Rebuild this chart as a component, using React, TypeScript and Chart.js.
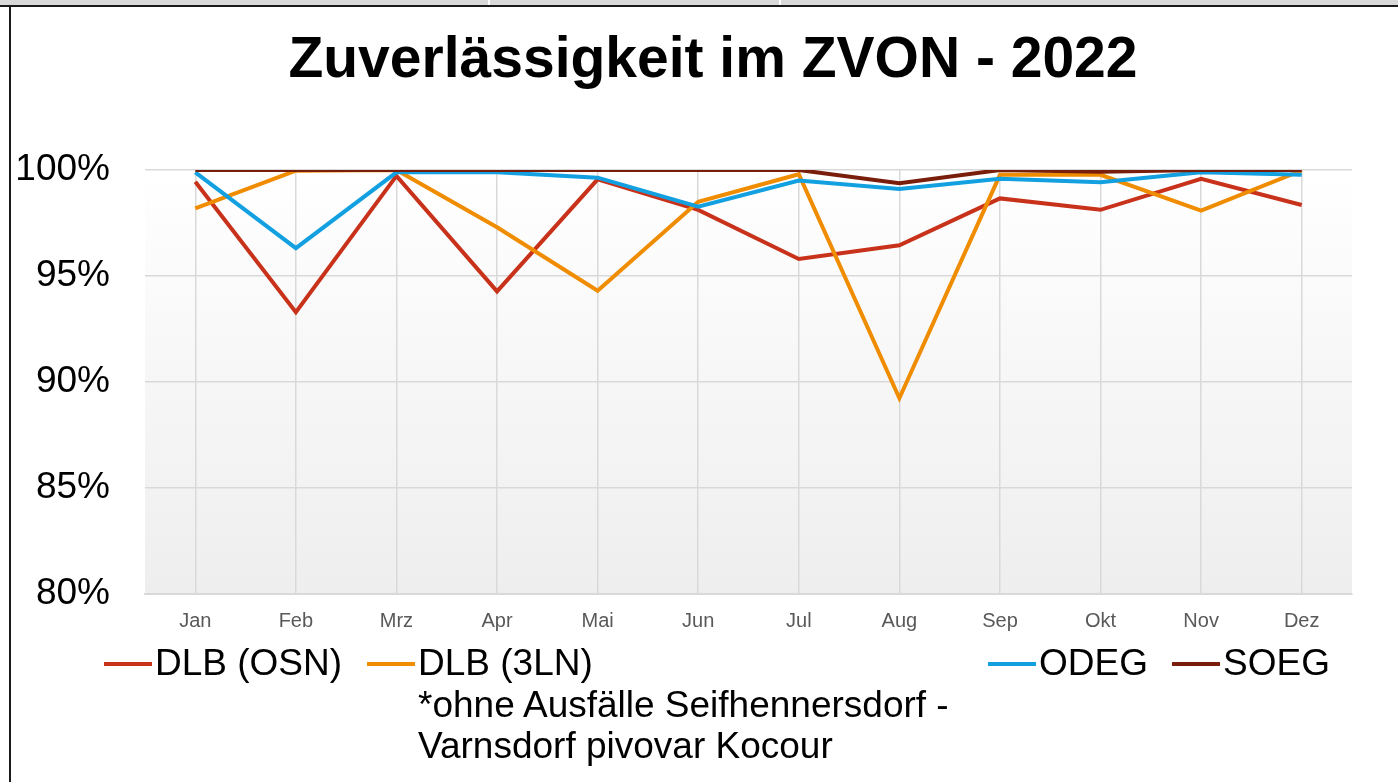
import React, { useEffect, useRef } from "react";
import { Chart, registerables } from "chart.js";

Chart.register(...registerables);

const FONT = "'Liberation Sans', Arial, sans-serif";

const TITLE = "Zuverlässigkeit im ZVON - 2022";
const MONTHS = ["Jan", "Feb", "Mrz", "Apr", "Mai", "Jun", "Jul", "Aug", "Sep", "Okt", "Nov", "Dez"];

const DLB_OSN = [99.45, 93.29, 99.72, 94.27, 99.56, 98.12, 95.8, 96.45, 98.66, 98.12, 99.58, 98.35];
const DLB_3LN = [98.19, 99.97, 100, 97.3, 94.3, 98.5, 99.8, 89.23, 99.77, 99.77, 98.08, 99.98];
const ODEG = [99.89, 96.31, 99.89, 99.89, 99.64, 98.27, 99.5, 99.1, 99.59, 99.42, 99.89, 99.77];
const SOEG = [100, 100, 100, 100, 100, 100, 100, 99.37, 100, 99.92, 100, 100];

const Y_MIN = 80;
const Y_MAX = 100;
const Y_STEP = 5;

const COLORS = {
  osn: "#c8321a",
  l3n: "#f08c00",
  odeg: "#12a0e0",
  soeg: "#7a1e0c",
};

const plotBg = {
  id: "plotBg",
  beforeDraw(chart: any) {
    const { ctx, chartArea: a } = chart;
    const g = ctx.createLinearGradient(0, a.top, 0, a.bottom);
    g.addColorStop(0, "#ffffff");
    g.addColorStop(1, "#eeeeee");
    ctx.save();
    ctx.fillStyle = g;
    ctx.fillRect(a.left, a.top, a.right - a.left, a.bottom - a.top);
    ctx.restore();
  },
};

function LegendItem(props: { x: number; color: string; lines: string[] }) {
  const { x, color, lines } = props;
  return (
    <>
      <div
        style={{
          position: "absolute",
          left: x,
          top: 662,
          width: 48,
          height: 4,
          background: color,
        }}
      />
      <div
        style={{
          position: "absolute",
          left: x + 51,
          top: 642,
          fontFamily: FONT,
          fontSize: 37,
          lineHeight: "41.5px",
          color: "#000",
          whiteSpace: "nowrap",
        }}
      >
        {lines.map((l, i) => (
          <div key={i}>{l}</div>
        ))}
      </div>
    </>
  );
}

export default function App() {
  const ref = useRef<HTMLCanvasElement | null>(null);

  useEffect(() => {
    if (!ref.current) return;
    const ds = (label: string, data: number[], color: string, order: number) => ({
      label,
      data,
      borderColor: color,
      backgroundColor: color,
      borderWidth: 4,
      pointRadius: 0,
      tension: 0,
      fill: false,
      order,
    });
    const chart = new Chart(ref.current, {
      type: "line",
      data: {
        labels: MONTHS,
        datasets: [
          ds("DLB (OSN)", DLB_OSN, COLORS.osn, 3),
          ds("DLB (3LN)", DLB_3LN, COLORS.l3n, 2),
          ds("ODEG", ODEG, COLORS.odeg, 1),
          ds("SOEG", SOEG, COLORS.soeg, 0),
        ],
      },
      options: {
        animation: false,
        responsive: false,
        maintainAspectRatio: false,
        layout: { padding: { left: 10, right: 46, top: 170, bottom: 0 } },
        plugins: {
          legend: { display: false },
          tooltip: { enabled: false },
          title: { display: false },
        },
        scales: {
          x: {
            offset: true,
            grid: { color: "#d9d9d9", lineWidth: 1.5, drawTicks: false, offset: false },
            border: { display: true, color: "#d9d9d9", width: 2 },
            ticks: {
              color: "#595959",
              font: { size: 20, family: FONT },
              padding: 16,
              maxRotation: 0,
              autoSkip: false,
            },
            afterFit: (s: any) => {
              s.height = 46;
            },
          },
          y: {
            min: Y_MIN,
            max: Y_MAX,
            ticks: {
              stepSize: Y_STEP,
              callback: (v: any) => v + "%",
              color: "#000",
              font: { size: 37, family: FONT },
              padding: 35,
            },
            grid: { color: "#d9d9d9", lineWidth: 1.5, drawTicks: false },
            border: { display: false },
            afterFit: (s: any) => {
              s.width = 135;
            },
          },
        },
      },
      plugins: [plotBg],
    } as any);
    return () => chart.destroy();
  }, []);

  return (
    <div
      style={{
        position: "absolute",
        left: 0,
        top: 0,
        width: 1398,
        height: 782,
        background: "#fff",
        overflow: "hidden",
      }}
    >
      <div style={{ position: "absolute", left: 0, top: 0, width: 1398, height: 5, background: "#d9d9d9" }} />
      <div style={{ position: "absolute", left: 488, top: 0, width: 2, height: 5, background: "#fff" }} />
      <div style={{ position: "absolute", left: 779, top: 0, width: 2, height: 5, background: "#fff" }} />
      <div style={{ position: "absolute", left: 0, top: 5, width: 1398, height: 2, background: "#1a1a1a" }} />
      <div style={{ position: "absolute", left: 9, top: 5, width: 2, height: 777, background: "#1a1a1a" }} />
      <canvas
        ref={ref}
        width={1398}
        height={651}
        style={{ position: "absolute", left: 0, top: 0, width: 1398, height: 651, display: "block" }}
      />
      <div
        style={{
          position: "absolute",
          left: 0,
          top: 23,
          width: 1426,
          textAlign: "center",
          fontFamily: FONT,
          fontWeight: "bold",
          fontSize: 57,
          lineHeight: "68px",
          color: "#000",
          whiteSpace: "nowrap",
        }}
      >
        {TITLE}
      </div>
      <LegendItem x={104} color={COLORS.osn} lines={["DLB (OSN)"]} />
      <LegendItem
        x={367}
        color={COLORS.l3n}
        lines={["DLB (3LN)", "*ohne Ausfälle Seifhennersdorf -", "Varnsdorf pivovar Kocour"]}
      />
      <LegendItem x={988} color={COLORS.odeg} lines={["ODEG"]} />
      <LegendItem x={1172} color={COLORS.soeg} lines={["SOEG"]} />
    </div>
  );
}
